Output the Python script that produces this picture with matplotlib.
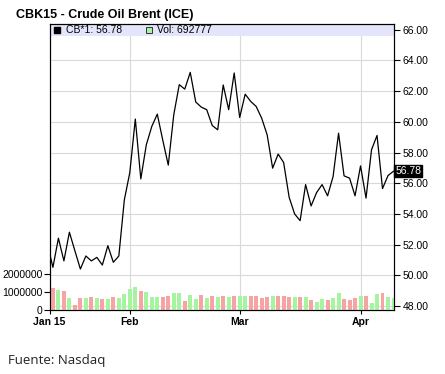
import numpy as np
import matplotlib.pyplot as plt
import matplotlib.transforms as mtransforms

# closing price per trading day (first value = day before the visible window)
prev_close = 52.05
closes = [50.52, 52.42, 50.94, 52.81, 51.60, 50.41, 51.26, 50.94, 51.17, 50.67,
          51.93, 50.85, 51.26, 54.91, 56.70, 60.18, 56.28, 58.50, 59.70, 60.50,
          58.80, 57.18, 60.46, 62.42, 62.13, 63.22, 61.29, 60.96, 60.79, 59.76,
          59.48, 62.40, 60.79, 63.18, 60.28, 61.80, 61.33, 61.00, 60.24, 59.15,
          56.98, 57.90, 57.35, 55.09, 54.00, 53.56, 55.91, 54.52, 55.39, 55.91,
          55.18, 56.43, 59.26, 56.48, 56.33, 55.18, 57.13, 55.03, 58.18, 59.11,
          55.65, 56.50, 56.78]

volumes = [1220000, 1110000, 1070000, 700000, 280000, 670000, 670000, 760000, 670000, 610000,
           610000, 760000, 700000, 930000, 1170000, 1280000, 1070000, 1000000, 760000, 760000,
           740000, 780000, 940000, 980000, 520000, 830000, 630000, 830000, 700000, 810000,
           740000, 780000, 740000, 780000, 800000, 780000, 810000, 780000, 700000, 740000,
           780000, 810000, 810000, 720000, 720000, 720000, 720000, 570000, 480000, 610000,
           570000, 700000, 940000, 610000, 590000, 670000, 780000, 780000, 410000, 890000,
           940000, 720000, 692777]

# u = up day (green), d = down day (red)
vol_dir = ("dudud" "dudud" "uduuu" "uduuu" "dduud" "uudud"
           "ududu" "udddd" "udddu" "dudu" "u" "duudd" "dudu" "u" "duu")

month_labels = ["Jan 15", "Feb", "Mar", "Apr"]
month_pos = [-0.6, 14, 34, 56]
price_ticks = [48, 50, 52, 54, 56, 58, 60, 62, 64, 66]
vol_ticks = [0, 1000000, 2000000]

last_price = closes[-1]
last_vol = volumes[-1]

plt.rcParams['font.family'] = ['Liberation Sans', 'DejaVu Sans']

fig = plt.figure(figsize=(4.45, 3.74), dpi=100)
ax = fig.add_axes([0.1115, 0.1698, 0.774, 0.766])
axv = ax.twinx()

x = np.arange(-1, len(closes))
ax.plot(x, [prev_close] + closes, color='black', lw=0.9, zorder=3)

red = '#f5a3a3'
green = '#a6f3a0'
colors = [green if d == 'u' else red for d in vol_dir[:len(volumes)]]
colors += [green] * (len(volumes) - len(colors))
axv.bar(np.arange(len(volumes)), volumes, width=0.72, color=colors, zorder=2)

ax.set_xlim(-0.6, 62.1)
ax.set_ylim(47.71, 66.37)
axv.set_ylim(0, 15.72e6)

# price axis on the right, volume axis on the left
ax.yaxis.tick_right()
axv.yaxis.tick_left()
ax.set_yticks(price_ticks)
ax.set_yticklabels([f"{v:.2f}" for v in price_ticks])
axv.set_yticks(vol_ticks)
axv.set_yticklabels([str(v) for v in vol_ticks])
ax.tick_params(axis='y', length=4, width=0.8, pad=2, labelsize=7.5)
axv.tick_params(axis='y', length=4, width=0.8, pad=1, labelsize=7.5)

ax.set_xticks(month_pos)
ax.set_xticklabels(month_labels, fontweight='bold')
ax.tick_params(axis='x', length=3, width=0.8, pad=2, labelsize=7.5)

ax.set_axisbelow(True)
ax.grid(True, color='#d9d9d9', lw=0.8)
for sp in list(ax.spines.values()) + list(axv.spines.values()):
    sp.set_linewidth(0.8)

# legend band
band = plt.Rectangle((0, 0.959), 1, 0.041, transform=ax.transAxes,
                     color='#e4e4fa', zorder=1.5, lw=0)
ax.add_patch(band)
ax.plot([0.022], [0.979], marker='s', ms=5, color='black',
        transform=ax.transAxes, zorder=4, clip_on=False)
ax.text(0.048, 0.979, f"CB*1: {last_price:.2f}", transform=ax.transAxes,
        fontsize=7.5, va='center', zorder=4)
ax.plot([0.289], [0.979], marker='s', ms=5, markerfacecolor=green,
        markeredgecolor='#333333', markeredgewidth=0.7,
        transform=ax.transAxes, zorder=4, clip_on=False)
ax.text(0.311, 0.979, f"Vol: {last_vol}", transform=ax.transAxes,
        fontsize=7.5, va='center', zorder=4)

# last price tag
trans = mtransforms.blended_transform_factory(ax.transAxes, ax.transData)
ax.text(1.004, last_price, f"{last_price:.2f}", transform=trans, fontsize=7.5,
        color='white', va='center', ha='left', zorder=6,
        bbox=dict(boxstyle='square,pad=0.1', fc='black', ec='black'))

fig.text(0.036, 0.96, "CBK15 - Crude Oil Brent (ICE)", fontsize=9,
         fontweight='bold', va='center', ha='left')
fig.text(0.018, 0.035, "Fuente: Nasdaq", fontsize=9.5, family='Open Sans',
         va='center', ha='left', color='#222222')

fig.savefig('out.png', dpi=100)
